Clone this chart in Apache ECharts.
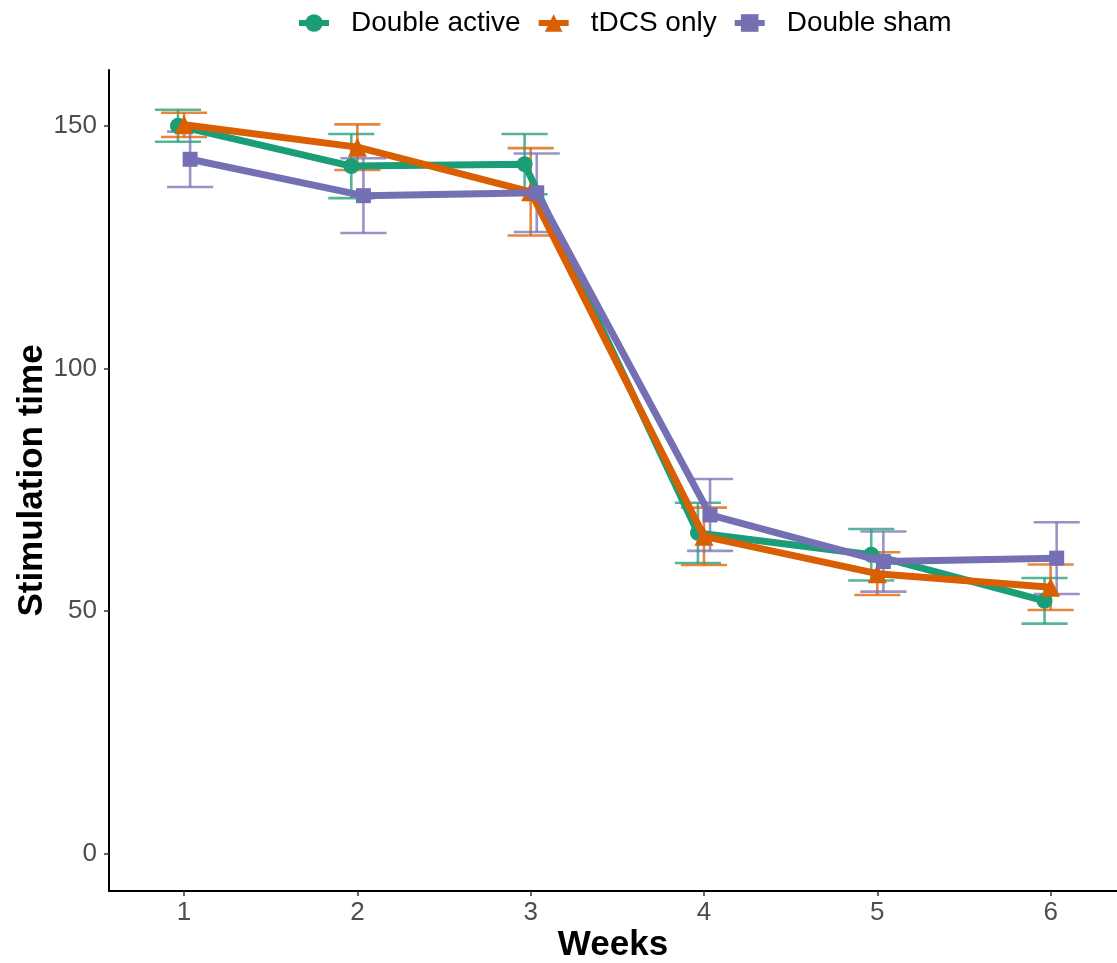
<!DOCTYPE html>
<html>
<head>
<meta charset="utf-8">
<script src="https://cdn.jsdelivr.net/npm/echarts@6/dist/echarts.min.js"></script>
<style>
	html, body { margin: 0; padding: 0; background: #fff; }
	#chart { width: 1117px; height: 963px; }
</style>
</head>
<body>
<div id="chart"></div>
<script>
// data
var weeks = [1, 2, 3, 4, 5, 6];
var groupNames = ['Double active', 'tDCS only', 'Double sham'];

var activeMean = [150.0, 141.7, 142.1, 66.1, 61.6, 52.1];
var activeSe   = [3.3, 6.6, 6.2, 6.2, 5.3, 4.7];

var tdcsMean = [150.2, 145.6, 136.4, 65.4, 57.7, 54.9];
var tdcsSe   = [2.5, 4.7, 9.0, 5.9, 4.4, 4.7];

var shamMean = [143.1, 135.6, 136.2, 69.8, 60.2, 60.9];
var shamSe   = [5.7, 7.7, 8.1, 7.4, 6.2, 7.4];

var yTicks = [0, 50, 100, 150];

var colors = ['#1B9E77', '#D95F02', '#7570B3'];
var symbols = ['circle', 'triangle', 'rect'];
var symbolSizes = [16, 19, 15];
var dodge = [-0.035, 0, 0.035];
var capHalf = 0.133;
var font = "'Liberation Sans', Arial, sans-serif";

var groups = [
	{ mean: activeMean, se: activeSe },
	{ mean: tdcsMean, se: tdcsSe },
	{ mean: shamMean, se: shamSe }
];

var myChart = echarts.init(document.getElementById('chart'));

var option = {
	animation: false,
	backgroundColor: '#fff',
	legend: {
		data: groupNames,
		top: 4,
		left: 291,
		itemWidth: 30,
		itemHeight: 22,
		itemGap: 15,
		lineStyle: { width: 6 },
		textStyle: { fontFamily: font, fontSize: 28, color: '#000', padding: [0, 0, 0, 17] }
	},
	grid: {
		left: 109,
		right: 0,
		top: 70,
		bottom: 72,
		outerBoundsMode: 'none'
	},
	xAxis: {
		type: 'value',
		min: 0.567,
		max: 6.383,
		name: 'Weeks',
		nameLocation: 'middle',
		nameGap: 37,
		nameMoveOverlap: false,
		nameTextStyle: { fontFamily: font, fontSize: 35, fontWeight: 'bold', color: '#000' },
		splitLine: { show: false },
		axisLine: { show: true, onZero: false, lineStyle: { color: '#000', width: 2 } },
		axisTick: { show: true, length: 5, lineStyle: { color: '#333', width: 1.5 }, customValues: weeks },
		axisLabel: { fontFamily: font, fontSize: 26, color: '#4D4D4D', margin: 9, customValues: weeks }
	},
	yAxis: {
		type: 'value',
		min: -7.7,
		max: 161.5,
		name: 'Stimulation time',
		nameLocation: 'middle',
		nameGap: 59,
		nameMoveOverlap: false,
		nameTextStyle: { fontFamily: font, fontSize: 35, fontWeight: 'bold', color: '#000' },
		splitLine: { show: false },
		axisLine: { show: true, onZero: false, lineStyle: { color: '#000', width: 2 } },
		axisTick: { show: true, length: 5, lineStyle: { color: '#333', width: 1.5 }, customValues: yTicks },
		axisLabel: { fontFamily: font, fontSize: 26, color: '#4D4D4D', margin: 12, customValues: yTicks }
	},
	series: []
};

// error bars first so the lines sit on top
groups.forEach(function(g, k) {
	var bars = [];
	weeks.forEach(function(w, i) {
		bars.push([w, g.mean[i] - g.se[i], g.mean[i] + g.se[i]]);
	});
	option.series.push({
		type: 'custom',
		name: 'err' + k,
		z: 1,
		silent: true,
		data: bars,
		renderItem: function(params, api) {
			var x = api.value(0) + dodge[k];
			var lo = api.coord([x, api.value(1)]);
			var hi = api.coord([x, api.value(2)]);
			var l1 = api.coord([x - capHalf, api.value(1)]);
			var r1 = api.coord([x + capHalf, api.value(1)]);
			var l2 = api.coord([x - capHalf, api.value(2)]);
			var r2 = api.coord([x + capHalf, api.value(2)]);
			var st = { stroke: colors[k], lineWidth: 2.6, opacity: 0.75 };
			return {
				type: 'group',
				children: [
					{ type: 'line', shape: { x1: lo[0], y1: lo[1], x2: hi[0], y2: hi[1] }, style: st },
					{ type: 'line', shape: { x1: l1[0], y1: l1[1], x2: r1[0], y2: r1[1] }, style: st },
					{ type: 'line', shape: { x1: l2[0], y1: l2[1], x2: r2[0], y2: r2[1] }, style: st }
				]
			};
		}
	});
});

groups.forEach(function(g, k) {
	var pts = [];
	weeks.forEach(function(w, i) {
		pts.push([w + dodge[k], g.mean[i]]);
	});
	option.series.push({
		type: 'line',
		name: groupNames[k],
		z: 3 + k,
		data: pts,
		symbol: symbols[k],
		symbolSize: symbolSizes[k],
		showSymbol: true,
		itemStyle: { color: colors[k] },
		lineStyle: { color: colors[k], width: 7 }
	});
});

myChart.setOption(option);
</script>
</body>
</html>
